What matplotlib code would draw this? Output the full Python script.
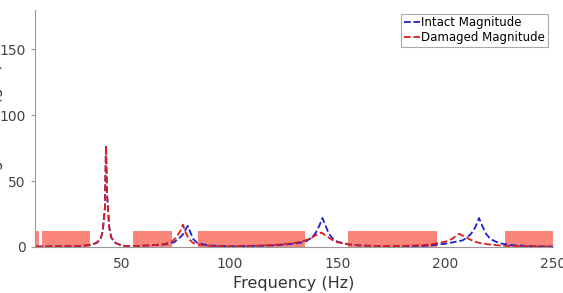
import matplotlib.pyplot as plt

# frequency response
intact_freq = [10, 20, 30, 35, 38, 40, 41, 42, 42.5, 43, 44, 45, 47, 50, 55, 60, 65, 70, 74, 76, 78, 79,
               80.5, 82, 83, 85, 90, 100, 110, 120, 130, 135, 138, 140, 141.5, 143, 144.5, 146, 148, 150,
               155, 160, 170, 180, 190, 195, 200, 205, 208, 210, 212, 214, 215.7, 217.5, 219, 221, 225,
               230, 240, 250]
intact_mag = [0.3, 0.5, 0.8, 1.5, 3, 6, 12, 30, 77, 40, 15, 7, 3, 1, 0.5, 1, 1.5, 2, 3.5, 6, 9, 12,
              16, 10, 6, 3, 1.2, 0.5, 0.8, 1.2, 2.5, 4, 7, 11, 16, 22, 16, 10, 6, 4,
              2, 1.2, 0.6, 0.5, 0.8, 1.5, 2.5, 4, 5, 7, 10, 15, 22, 15, 10, 6, 3,
              1.5, 0.6, 0.3]

damaged_freq = [10, 20, 30, 35, 38, 40, 41, 42, 42.5, 43, 44, 45, 47, 50, 55, 60, 65, 70, 73, 75, 77,
                78.2, 79.5, 81, 83, 85, 90, 100, 110, 120, 130, 135, 138, 140, 142.6, 145, 148, 150,
                155, 160, 170, 180, 190, 195, 200, 203, 206.5, 210, 213, 216, 220, 225, 230, 240, 250]
damaged_mag = [0.3, 0.5, 0.8, 1.5, 3, 6, 12, 30, 77, 40, 15, 7, 3, 1, 0.5, 1, 1.5, 2.5, 4, 7, 12,
               17, 11, 6, 3, 2, 1, 0.5, 0.8, 1.5, 3, 5, 7, 9, 11, 8, 5, 3.5,
               2, 1.2, 0.6, 0.8, 1.5, 2.5, 4, 6, 10, 7, 4.5, 3, 2, 1.2, 0.8, 0.5, 0.3]

# shaded frequency bands
band_start = [10, 13, 55, 85, 155, 228]
band_end = [11.5, 35, 73, 135, 196, 250]
band_height = 12

fig = plt.figure(figsize=(5.63, 2.93), dpi=100)
ax = fig.add_axes([0.062, 0.157, 0.92, 0.809])

for s, e in zip(band_start, band_end):
    ax.bar(s, band_height, width=e - s, align="edge", color="salmon", alpha=0.95, linewidth=0)

ax.plot(intact_freq, intact_mag, linestyle="--", color="#1f1fd6", lw=1.3, label="Intact Magnitude")
ax.plot(damaged_freq, damaged_mag, linestyle="--", color="#d61f1f", lw=1.3, label="Damaged Magnitude")

ax.set_xlim(9.5, 250)
ax.set_ylim(0, 180)
ax.set_xticks([50, 100, 150, 200, 250])
ax.set_yticks([0, 50, 100, 150])
ax.spines["top"].set_visible(False)
ax.spines["right"].set_visible(False)
for sp in ["left", "bottom"]:
    ax.spines[sp].set_color("#999999")
ax.tick_params(colors="#999999", labelcolor="#444444", labelsize=10, length=3)
ax.tick_params(axis="x", length=0, pad=7)
ax.set_xlabel("Frequency (Hz)", fontsize=11.5, color="#333333", labelpad=4)
ax.set_ylabel("Magnitude (g/N)", fontsize=11.5, color="#333333")
ax.yaxis.set_label_coords(-0.062, 0.5)

leg = ax.legend(loc="upper right", bbox_to_anchor=(0.99, 0.985), fontsize=8.5, handlelength=1.4,
                handletextpad=0.05, borderpad=0.25, labelspacing=0.15, borderaxespad=0,
                fancybox=False, framealpha=1)
leg.get_frame().set_edgecolor("#aaaaaa")
leg.get_frame().set_linewidth(0.8)

fig.savefig("out.png", dpi=100)
